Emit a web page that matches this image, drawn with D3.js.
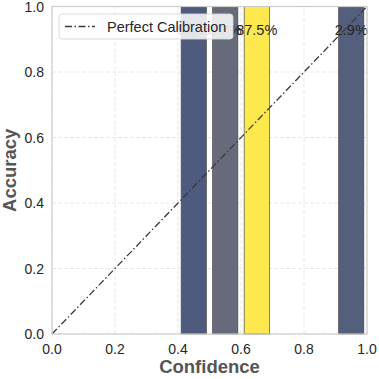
<!DOCTYPE html>
<html>
<head>
<meta charset="utf-8">
<script src="https://cdn.jsdelivr.net/npm/d3@7"></script>
<style>
  body { margin: 0; background: #fff; }
  text { font-family: "Liberation Sans", Arial, sans-serif; }
</style>
</head>
<body>
<div id="chart"></div>
<script>
// bins of the reliability diagram
const binCenters = [0.45, 0.55, 0.65, 0.95];
const binAccuracy = [1.0, 1.0, 1.0, 1.0];
const binShare = ["5.8%", "3.8%", "87.5%", "2.9%"];
const binColors = ["#4e5b7e", "#676a7b", "#fde94e", "#545e7d"];
const xTicks = [0.0, 0.2, 0.4, 0.6, 0.8, 1.0];
const yTicks = [0.0, 0.2, 0.4, 0.6, 0.8, 1.0];
const diagonal = [[0, 0], [1, 1]];

const width = 379, height = 379;
const margin = { top: 6.5, right: 12, bottom: 45, left: 52 };

const svg = d3.select("#chart")
  .append("svg")
  .attr("width", width)
  .attr("height", height);

const x = d3.scaleLinear().domain([0, 1]).range([margin.left, width - margin.right]);
const y = d3.scaleLinear().domain([0, 1]).range([height - margin.bottom, margin.top]);

// grid
svg.append("g")
  .selectAll("line.gx")
  .data(xTicks)
  .enter()
  .append("line")
  .attr("x1", d => x(d)).attr("x2", d => x(d))
  .attr("y1", y(0)).attr("y2", y(1))
  .attr("stroke", "#e3e3e3")
  .attr("stroke-dasharray", "4,2")
  .attr("stroke-width", 0.8);

svg.append("g")
  .selectAll("line.gy")
  .data(yTicks)
  .enter()
  .append("line")
  .attr("x1", x(0)).attr("x2", x(1))
  .attr("y1", d => y(d)).attr("y2", d => y(d))
  .attr("stroke", "#e3e3e3")
  .attr("stroke-dasharray", "4,2")
  .attr("stroke-width", 0.8);

// bars
const barW = 0.08;
svg.append("g")
  .selectAll("rect")
  .data(binCenters)
  .enter()
  .append("rect")
  .attr("x", d => x(d - barW / 2))
  .attr("width", d => x(d + barW / 2) - x(d - barW / 2))
  .attr("y", (d, i) => y(binAccuracy[i]))
  .attr("height", (d, i) => y(0) - y(binAccuracy[i]))
  .attr("fill", (d, i) => binColors[i])
  .attr("stroke", "#4a4a4a")
  .attr("stroke-width", 0.7);

// share labels
svg.append("g")
  .selectAll("text")
  .data(binCenters)
  .enter()
  .append("text")
  .attr("x", d => x(d))
  .attr("y", (d, i) => y(binAccuracy[i] - 0.088))
  .attr("text-anchor", "middle")
  .attr("font-size", 14.5)
  .attr("fill", "#262626")
  .text((d, i) => binShare[i]);

// perfect calibration line
const line = d3.line().x(d => x(d[0])).y(d => y(d[1]));
svg.append("path")
  .attr("d", line(diagonal))
  .attr("fill", "none")
  .attr("stroke", "#3a3a3a")
  .attr("stroke-width", 1.3)
  .attr("stroke-dasharray", "7,2.5,1.5,2.5");

// frame
svg.append("rect")
  .attr("x", x(0)).attr("y", y(1))
  .attr("width", x(1) - x(0)).attr("height", y(0) - y(1))
  .attr("fill", "none")
  .attr("stroke", "#cccccc")
  .attr("stroke-width", 1.2);

// tick labels
svg.append("g")
  .selectAll("text")
  .data(xTicks)
  .enter()
  .append("text")
  .attr("x", d => x(d))
  .attr("y", 354)
  .attr("text-anchor", "middle")
  .attr("font-size", 14)
  .attr("fill", "#262626")
  .text(d => d.toFixed(1));

svg.append("g")
  .selectAll("text")
  .data(yTicks)
  .enter()
  .append("text")
  .attr("x", x(0) - 8)
  .attr("y", d => y(d) + 5)
  .attr("text-anchor", "end")
  .attr("font-size", 14)
  .attr("fill", "#262626")
  .text(d => d.toFixed(1));

// axis titles
svg.append("text")
  .attr("x", (x(0) + x(1)) / 2)
  .attr("y", 373)
  .attr("text-anchor", "middle")
  .attr("font-size", 18.5)
  .attr("font-weight", "bold")
  .attr("fill", "#555555")
  .text("Confidence");

svg.append("text")
  .attr("transform", `translate(16,${(y(0) + y(1)) / 2}) rotate(-90)`)
  .attr("text-anchor", "middle")
  .attr("font-size", 18.5)
  .attr("font-weight", "bold")
  .attr("fill", "#555555")
  .text("Accuracy");

// legend
const lg = svg.append("g").attr("transform", "translate(59,14)");
lg.append("rect")
  .attr("width", 174).attr("height", 25)
  .attr("rx", 3)
  .attr("fill", "#ffffff")
  .attr("fill-opacity", 0.85)
  .attr("stroke", "#d6d6d6")
  .attr("stroke-width", 0.9);
lg.append("line")
  .attr("x1", 6).attr("x2", 36)
  .attr("y1", 12.5).attr("y2", 12.5)
  .attr("stroke", "#3a3a3a")
  .attr("stroke-width", 1.3)
  .attr("stroke-dasharray", "7,2.5,1.5,2.5");
lg.append("text")
  .attr("x", 48).attr("y", 17.5)
  .attr("font-size", 14.5)
  .attr("fill", "#262626")
  .text("Perfect Calibration");
</script>
</body>
</html>
